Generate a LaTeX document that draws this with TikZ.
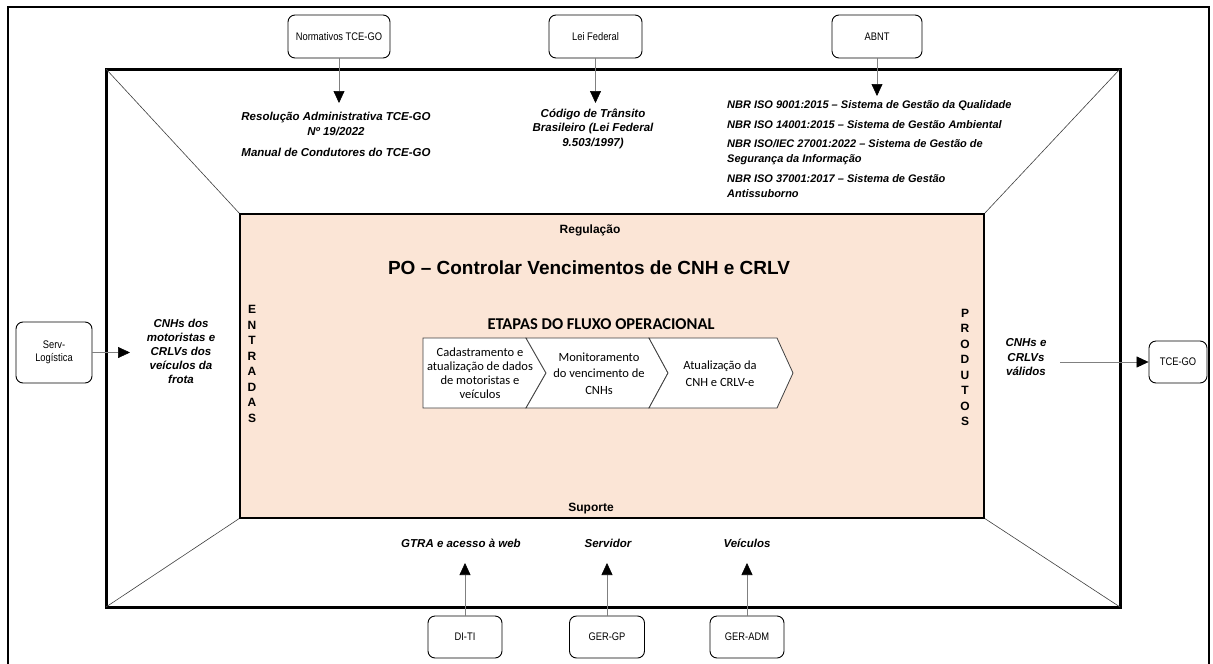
\documentclass[tikz,border=0pt]{standalone}
\usepackage{fontspec}
\setmainfont{Liberation Sans}
\newfontfamily\narrowfont[FakeStretch=0.85]{Liberation Sans}
\newfontfamily\calfont{Carlito}
\usetikzlibrary{arrows.meta}
\definecolor{peach}{HTML}{FBE5D6}
\definecolor{linegray}{HTML}{808080}
\begin{document}
\begin{tikzpicture}[x=1pt,y=-1pt,
  srcbox/.style={draw=black,line width=0.9pt,rounded corners=7pt,fill=white,align=center,
     font=\narrowfont\fontsize{11}{13}\selectfont,inner sep=1pt},
  flowarr/.style={draw=linegray,line width=0.6pt,-{Triangle[length=12pt,width=11pt,color=black]}},
  itxt/.style={font=\bfseries\itshape\fontsize{11.5}{14}\selectfont,align=center,inner sep=0pt},
  diag/.style={draw=black!75,line width=0.6pt},
  chev/.style={draw=black!75,line width=0.8pt,fill=white},
  chevtxt/.style={font=\calfont\fontsize{12.5}{16.5}\selectfont,align=center,inner sep=0pt},
  vlet/.style={font=\bfseries\fontsize{12}{15.5}\selectfont,align=center,inner sep=0pt}
]
\useasboundingbox (0,0) rectangle (1213,664);
\fill[white] (0,0) rectangle (1213,664);
% outer frame
\draw[line width=2pt] (8,667) -- (8,7) -- (1209,7) -- (1209,667);
% main frame
\draw[line width=3pt] (106,69) rectangle (1120,607);
% diagonals
\draw[diag] (106,69) -- (240,214);
\draw[diag] (1120,69) -- (984,214);
\draw[diag] (106,607) -- (240,518);
\draw[diag] (1120,607) -- (984,518);
% central area
\draw[fill=peach,draw=black,line width=1.3pt] (240,214) rectangle (984,518);

\node[font=\bfseries\fontsize{12}{14}\selectfont] (reg) at (590,230) {Regulação};
\node[font=\bfseries\fontsize{19}{22}\selectfont] (title) at (589,268) {PO – Controlar Vencimentos de CNH e CRLV};
\node[font=\calfont\bfseries\fontsize{16.5}{18}\selectfont] (etapas) at (601,324) {ETAPAS DO FLUXO OPERACIONAL};
\node[font=\bfseries\fontsize{12}{14}\selectfont] (sup) at (591,509) {Suporte};

\node[vlet] (entr) at (252,364) {E\\N\\T\\R\\A\\D\\A\\S};
\node[vlet] (prod) at (965,367.5) {P\\R\\O\\D\\U\\T\\O\\S};

% chevrons
\draw[chev] (423,338) -- (526,338) -- (546,373) -- (526,408) -- (423,408) -- cycle;
\draw[chev] (526,338) -- (649,338) -- (668,373) -- (649,408) -- (526,408) -- (546,373) -- cycle;
\draw[chev] (649,338) -- (777,338) -- (793,373) -- (777,408) -- (649,408) -- (668,373) -- cycle;
\node[chevtxt,font=\calfont\fontsize{12.5}{14}\selectfont] (c1) at (480,373) {Cadastramento e\\atualização de dados\\de motoristas e\\veículos};
\node[chevtxt] (c2) at (599,373.5) {Monitoramento\\do vencimento de\\CNHs};
\node[chevtxt] (c3) at (720,373.5) {Atualização da\\CNH e CRLV-e};

% top sources
\node[srcbox,minimum width=102pt,minimum height=43pt] (norm) at (339,36.5) {Normativos TCE-GO};
\node[srcbox,minimum width=93pt,minimum height=43pt] (lei) at (595.5,36.5) {Lei Federal};
\node[srcbox,minimum width=90pt,minimum height=43pt] (abnt) at (877,36.5) {ABNT};
\coordinate (normend) at (339,103);
\coordinate (leiend) at (595.5,103);
\coordinate (abntend) at (877,96);
\draw[flowarr] (norm.south) -- (normend);
\draw[flowarr] (lei.south) -- (leiend);
\draw[flowarr] (abnt.south) -- (abntend);

\node[itxt,font=\bfseries\itshape\fontsize{11.5}{15}\selectfont] (resol) at (336,134.5) {Resolução Administrativa TCE-GO\\Nº 19/2022\\[6pt]Manual de Condutores do TCE-GO};
\node[itxt,font=\bfseries\itshape\fontsize{11.5}{14.5}\selectfont] (ctb) at (593,128.5) {Código de Trânsito\\Brasileiro (Lei Federal\\9.503/1997)};
\node[itxt,align=left,anchor=west,font=\bfseries\itshape\fontsize{11}{15}\selectfont] (nbr) at (727,149.5) {NBR ISO 9001:2015 – Sistema de Gestão da Qualidade\\[5pt]NBR ISO 14001:2015 – Sistema de Gestão Ambiental\\[4pt]NBR ISO/IEC 27001:2022 – Sistema de Gestão de\\Segurança da Informação\\[5pt]NBR ISO 37001:2017 – Sistema de Gestão\\Antissuborno};

% left input
\node[srcbox,minimum width=76pt,minimum height=61pt] (serv) at (54,352.5) {Serv-\\Logística};
\coordinate (servend) at (130,352.5);
\draw[flowarr] (serv.east) -- (servend);
\node[itxt,font=\bfseries\itshape\fontsize{11.5}{14}\selectfont] (inp) at (181,351) {CNHs dos\\motoristas e\\CRLVs dos\\veículos da\\frota};

% right output
\node[itxt,font=\bfseries\itshape\fontsize{11.5}{14.5}\selectfont] (outp) at (1026,357.5) {CNHs e\\CRLVs\\válidos};
\node[srcbox,minimum width=58pt,minimum height=42pt] (tce) at (1178,362) {TCE-GO};
\coordinate (outstart) at (1060,362);
\draw[flowarr] (outstart) -- (tce.west);

% bottom support
\node[itxt] (gtra) at (461,543) {GTRA e acesso à web};
\node[itxt] (servd) at (608,543) {Servidor};
\node[itxt] (veic) at (747,543) {Veículos};
\node[srcbox,minimum width=74pt,minimum height=42pt] (diti) at (465,637) {DI-TI};
\node[srcbox,minimum width=75pt,minimum height=42pt] (gergp) at (607,637) {GER-GP};
\node[srcbox,minimum width=74pt,minimum height=42pt] (geradm) at (747,637) {GER-ADM};
\coordinate (ditiend) at (465,563);
\coordinate (gergpend) at (607,563);
\coordinate (geradmend) at (747,563);
\draw[flowarr] (diti.north) -- (ditiend);
\draw[flowarr] (gergp.north) -- (gergpend);
\draw[flowarr] (geradm.north) -- (geradmend);
\end{tikzpicture}
\end{document}
